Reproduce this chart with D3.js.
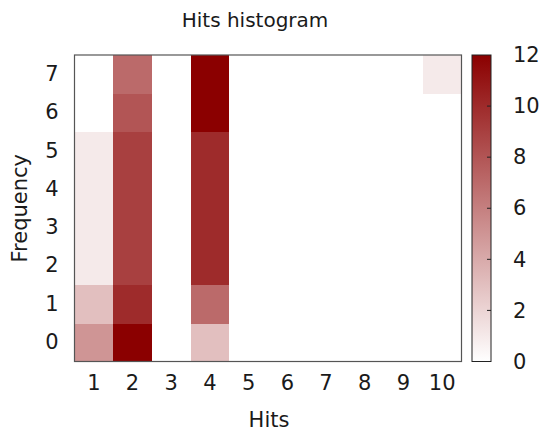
<!DOCTYPE html>
<html>
<head>
<meta charset="utf-8">
<script src="https://cdn.jsdelivr.net/npm/d3@7"></script>
<style>
  body { margin: 0; background: #fff; }
  text { font-family: "DejaVu Sans", sans-serif; fill: #1a1a1a; }
</style>
</head>
<body>
<script>
// hits histogram: count of runs per (hits, frequency) cell
var hits = [1, 2, 3, 4, 5, 6, 7, 8, 9, 10];
var frequencies = [0, 1, 2, 3, 4, 5, 6, 7];
// one array per hit value, indexed by frequency 0..7
var hits1 = [5, 3, 1, 1, 1, 1, 0, 0];
var hits2 = [12, 10, 9, 9, 9, 9, 8, 7];
var hits3 = [0, 0, 0, 0, 0, 0, 0, 0];
var hits4 = [3, 7, 10, 10, 10, 10, 12, 12];
var hits5 = [0, 0, 0, 0, 0, 0, 0, 0];
var hits6 = [0, 0, 0, 0, 0, 0, 0, 0];
var hits7 = [0, 0, 0, 0, 0, 0, 0, 0];
var hits8 = [0, 0, 0, 0, 0, 0, 0, 0];
var hits9 = [0, 0, 0, 0, 0, 0, 0, 0];
var hits10 = [0, 0, 0, 0, 0, 0, 0, 1];
var colorTicks = [0, 2, 4, 6, 8, 10, 12];

var counts = [hits1, hits2, hits3, hits4, hits5, hits6, hits7, hits8, hits9, hits10];
var cells = [];
hits.forEach(function(h, i) {
  frequencies.forEach(function(f, j) {
    cells.push({ hit: h, freq: f, count: counts[i][j] });
  });
});

var width = 550, height = 438;
var plot = { left: 74.5, right: 461.5, top: 55, bottom: 361.5 };
var bar = { left: 472, right: 491 };

var svg = d3.select('body').append('svg')
  .attr('width', width)
  .attr('height', height);

var xScale = d3.scaleBand().domain(hits).range([plot.left, plot.right]);
var yScale = d3.scaleBand().domain(frequencies).range([plot.bottom, plot.top]);
var color = d3.scaleLinear().domain([0, 12]).range(['#ffffff', '#8b0000']);

// cells
svg.append('g')
  .attr('shape-rendering', 'crispEdges')
  .selectAll('rect')
  .data(cells)
  .enter()
  .append('rect')
  .attr('x', function(d) { return xScale(d.hit); })
  .attr('y', function(d) { return yScale(d.freq); })
  .attr('width', xScale.bandwidth() + 0.5)
  .attr('height', yScale.bandwidth() + 0.5)
  .attr('fill', function(d) { return color(d.count); });

svg.append('rect')
  .attr('x', plot.left).attr('y', plot.top)
  .attr('width', plot.right - plot.left).attr('height', plot.bottom - plot.top)
  .attr('fill', 'none').attr('stroke', '#555').attr('stroke-width', 1.2);

// axes (labels only, no tick marks)
var xAxis = svg.append('g')
  .attr('transform', 'translate(0,' + (plot.bottom + 4) + ')')
  .call(d3.axisBottom(xScale).tickSize(0).tickPadding(10));
var yAxis = svg.append('g')
  .attr('transform', 'translate(' + (plot.left - 8) + ',0)')
  .call(d3.axisLeft(yScale).tickSize(0).tickPadding(8));
[xAxis, yAxis].forEach(function(ax) {
  ax.select('.domain').remove();
  ax.selectAll('text').style('font-size', '21px').attr('fill', '#1a1a1a')
    .attr('font-family', '"DejaVu Sans", sans-serif');
});

// colour bar
var defs = svg.append('defs');
var grad = defs.append('linearGradient')
  .attr('id', 'cbar').attr('x1', 0).attr('y1', 1).attr('x2', 0).attr('y2', 0);
grad.append('stop').attr('offset', 0).attr('stop-color', color(0));
grad.append('stop').attr('offset', 1).attr('stop-color', color(12));

var cScale = d3.scaleLinear().domain([0, 12]).range([plot.bottom, plot.top]);
svg.append('rect')
  .attr('x', bar.left).attr('y', plot.top)
  .attr('width', bar.right - bar.left).attr('height', plot.bottom - plot.top)
  .attr('fill', 'url(#cbar)').attr('stroke', '#222').attr('stroke-width', 1);

var cAxis = svg.append('g')
  .attr('transform', 'translate(' + bar.right + ',0)')
  .call(d3.axisRight(cScale).tickValues(colorTicks).tickSize(0).tickPadding(22));
cAxis.select('.domain').remove();
cAxis.selectAll('text').style('font-size', '21px').attr('fill', '#1a1a1a')
  .attr('font-family', '"DejaVu Sans", sans-serif');
// inner ticks on the bar's right edge
svg.append('g')
  .selectAll('line')
  .data(colorTicks.slice(1, -1))
  .enter()
  .append('line')
  .attr('x1', bar.right - 4).attr('x2', bar.right)
  .attr('y1', function(d) { return cScale(d); })
  .attr('y2', function(d) { return cScale(d); })
  .attr('stroke', '#222').attr('stroke-width', 1);

// titles
svg.append('text')
  .attr('x', 255).attr('y', 27)
  .attr('text-anchor', 'middle')
  .style('font-size', '20px')
  .text('Hits histogram');
svg.append('text')
  .attr('x', 269).attr('y', 427)
  .attr('text-anchor', 'middle')
  .style('font-size', '21px')
  .text('Hits');
svg.append('text')
  .attr('transform', 'translate(27,' + ((plot.top + plot.bottom) / 2) + ') rotate(-90)')
  .attr('text-anchor', 'middle')
  .style('font-size', '21px')
  .text('Frequency');
</script>
</body>
</html>
